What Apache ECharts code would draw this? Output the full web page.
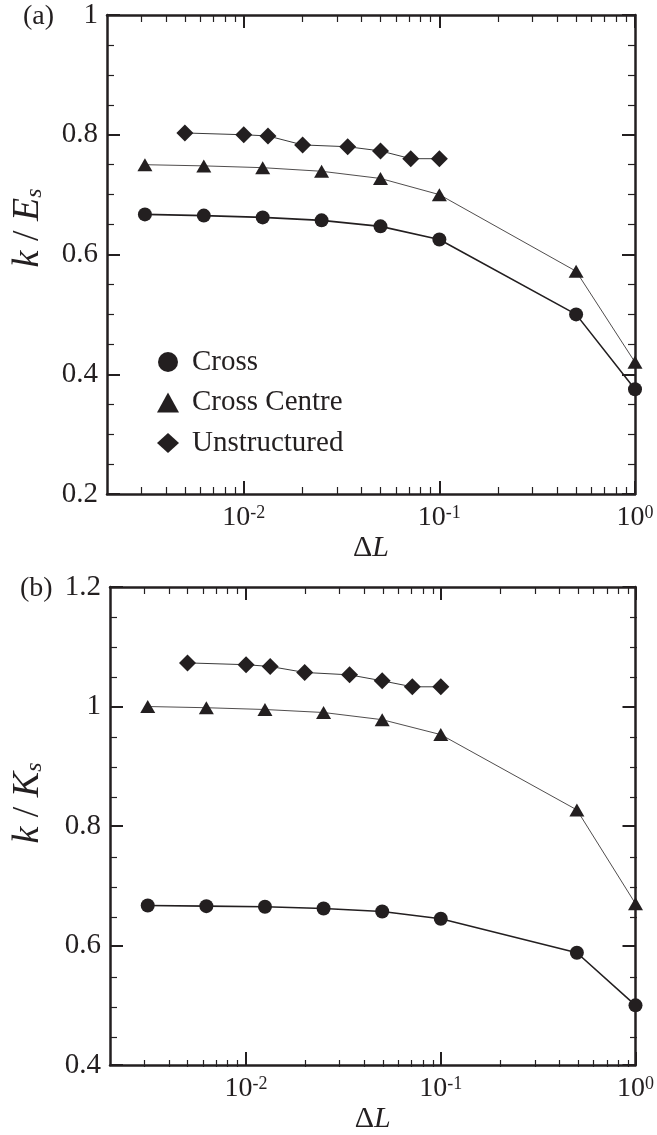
<!DOCTYPE html>
<html><head><meta charset="utf-8">
<script src="https://cdn.jsdelivr.net/npm/echarts@6/dist/echarts.min.js"></script>
<style>html,body{margin:0;padding:0;background:#fff}#c{width:657px;height:1135px}</style>
</head><body><div id="c"></div>
<script>
// ---- data ----
const seriesNames = ['Cross', 'Cross Centre', 'Unstructured'];
const dxStructured = [0.003125, 0.00625, 0.0125, 0.025, 0.05, 0.1, 0.5, 1];
const dxUnstructured = [0.005, 0.01, 0.0133, 0.02, 0.034, 0.05, 0.0714, 0.1];
// panel (a): k / E_s
const aCross = [0.667, 0.665, 0.662, 0.657, 0.647, 0.625, 0.5, 0.375];
const aCrossCentre = [0.75, 0.748, 0.745, 0.739, 0.727, 0.70, 0.572, 0.42];
const aUnstructured = [0.803, 0.80, 0.798, 0.783, 0.78, 0.773, 0.76, 0.76];
// panel (b): k / K_s
const bCross = [0.667, 0.666, 0.665, 0.662, 0.657, 0.645, 0.588, 0.5];
const bCrossCentre = [1.0, 0.998, 0.995, 0.99, 0.978, 0.953, 0.827, 0.67];
const bUnstructured = [1.073, 1.07, 1.067, 1.057, 1.053, 1.043, 1.033, 1.033];
// axes
const xRange = [0.002, 1];
const xMajorTicks = [0.01, 0.1, 1];
const xMinorTicks = [0.003, 0.004, 0.005, 0.006, 0.007, 0.008, 0.009,
  0.02, 0.03, 0.04, 0.05, 0.06, 0.07, 0.08, 0.09,
  0.2, 0.3, 0.4, 0.5, 0.6, 0.7, 0.8, 0.9];
const yRangeA = [0.2, 1];
const yRangeB = [0.4, 1.2];
const yStep = 0.2;
const yMinorA = [0.25, 0.3, 0.35, 0.45, 0.5, 0.55, 0.65, 0.7, 0.75, 0.85, 0.9, 0.95];
const yMinorB = [0.45, 0.5, 0.55, 0.65, 0.7, 0.75, 0.85, 0.9, 0.95, 1.05, 1.1, 1.15];

// ---- chart ----
const INK = '#231f20';
const FONT = 'Liberation Serif';
const lg = v => Math.log10(v);
const pts = (xs, ys) => xs.map((x, i) => [lg(x), ys[i]]);
const grids = [
  {left: 107, top: 15, width: 528, height: 479},
  {left: 110, top: 587, width: 527, height: 480}
];
const line = () => ({show: true, onZero: false, lineStyle: {color: INK, width: 2.5}});
const noline = () => ({show: false, onZero: false});
const majorTick = (vals) => ({show: true, inside: true, length: 13, lineStyle: {color: INK, width: 2}, customValues: vals});
const minorTick = (vals) => ({show: true, inside: true, length: 7, lineStyle: {color: INK, width: 1.2}, customValues: vals});

function xAxesFor(gMain, gAux) {
  const base = () => ({type: 'value', min: lg(xRange[0]), max: lg(xRange[1]), splitLine: {show: false}});
  return [
    Object.assign(base(), {gridIndex: gMain, position: 'bottom', axisLine: line(), axisTick: majorTick(xMajorTicks.map(lg)),
      axisLabel: {show: true, margin: 10, customValues: xMajorTicks.map(lg),
        formatter: v => '{b|10}{s|' + Math.round(v) + '}',
        rich: {b: {fontFamily: FONT, fontSize: 28, color: INK},
               s: {fontFamily: FONT, fontSize: 18, color: INK, verticalAlign: 'top'}}},
      name: '{d|Δ}{l|L}', nameLocation: 'middle', nameGap: 34,
      nameTextStyle: {rich: {d: {fontFamily: FONT, fontSize: 30, color: INK},
                             l: {fontFamily: FONT, fontSize: 30, color: INK, fontStyle: 'italic'}}}}),
    Object.assign(base(), {gridIndex: gMain, position: 'top', axisLine: line(), axisTick: majorTick(xMajorTicks.map(lg)),
      axisLabel: {show: false}}),
    Object.assign(base(), {gridIndex: gAux, position: 'bottom', axisLine: noline(), axisTick: minorTick(xMinorTicks.map(lg)),
      axisLabel: {show: false}}),
    Object.assign(base(), {gridIndex: gAux, position: 'top', axisLine: noline(), axisTick: minorTick(xMinorTicks.map(lg)),
      axisLabel: {show: false}})
  ];
}
function yAxesFor(gMain, gAux, range, minorVals) {
  const base = () => ({type: 'value', min: range[0], max: range[1], interval: yStep, splitLine: {show: false}});
  const t = () => ({show: true, inside: true, length: 13, lineStyle: {color: INK, width: 2}});
  return [
    Object.assign(base(), {gridIndex: gMain, position: 'left', axisLine: line(), axisTick: t(),
      axisLabel: {show: true, margin: 9, fontFamily: FONT, fontSize: 29, color: INK}}),
    Object.assign(base(), {gridIndex: gMain, position: 'right', axisLine: line(), axisTick: t(),
      axisLabel: {show: false}}),
    Object.assign(base(), {gridIndex: gAux, position: 'left', axisLine: noline(), axisTick: minorTick(minorVals),
      axisLabel: {show: false}}),
    Object.assign(base(), {gridIndex: gAux, position: 'right', axisLine: noline(), axisTick: minorTick(minorVals),
      axisLabel: {show: false}})
  ];
}
function seriesFor(xi, yi, cross, centre, unstr) {
  const common = {type: 'line', xAxisIndex: xi, yAxisIndex: yi, clip: false, z: 5,
    itemStyle: {color: INK}, emphasis: {disabled: true}, animation: false};
  return [
    Object.assign({}, common, {name: seriesNames[0], data: pts(dxStructured, cross),
      symbol: 'circle', symbolSize: 14, lineStyle: {color: INK, width: 1.6}}),
    Object.assign({}, common, {name: seriesNames[1], data: pts(dxStructured, centre),
      symbol: 'triangle', symbolSize: [15, 13], lineStyle: {color: INK, width: 0.8}}),
    Object.assign({}, common, {name: seriesNames[2], data: pts(dxUnstructured, unstr),
      symbol: 'diamond', symbolSize: [17, 17], lineStyle: {color: '#3a3a3a', width: 1}})
  ];
}
function yTitle(y, letter) {
  return {type: 'text', x: 28, y: y, rotation: Math.PI / 2,
    style: {text: '{i|k} / {i|' + letter + '}{s|s}', align: 'center', verticalAlign: 'middle',
      rich: {i: {fontFamily: FONT, fontSize: 38, fontStyle: 'italic', fill: INK},
             s: {fontFamily: FONT, fontSize: 24, fontStyle: 'italic', fill: INK, verticalAlign: 'bottom'}},
      fontFamily: FONT, fontSize: 38, fill: INK}};
}
const option = {
  animation: false,
  backgroundColor: '#fff',
  grid: [grids[0], grids[0], grids[1], grids[1]],
  xAxis: [].concat(xAxesFor(0, 1), xAxesFor(2, 3)),
  yAxis: [].concat(yAxesFor(0, 1, yRangeA, yMinorA), yAxesFor(2, 3, yRangeB, yMinorB)),
  legend: {
    orient: 'vertical', left: 157, top: 347, padding: 0, itemWidth: 22, itemHeight: 20, itemGap: 10.5,
    selectedMode: false,
    data: [{name: seriesNames[0], icon: 'circle'}, {name: seriesNames[1], icon: 'triangle'},
           {name: seriesNames[2], icon: 'diamond'}],
    itemStyle: {color: INK},
    textStyle: {fontFamily: FONT, fontSize: 29, lineHeight: 30, color: INK, padding: [0, 0, 0, 8]}
  },
  graphic: [
    {type: 'text', left: 23, top: 3, style: {text: '(a)', fontFamily: FONT, fontSize: 28, fill: INK}},
    {type: 'text', left: 20, top: 575, style: {text: '(b)', fontFamily: FONT, fontSize: 28, fill: INK}},
    yTitle(228, 'E'), yTitle(803, 'K')
  ],
  series: [].concat(seriesFor(0, 0, aCross, aCrossCentre, aUnstructured),
                    seriesFor(4, 4, bCross, bCrossCentre, bUnstructured))
};
const chart = echarts.init(document.getElementById('c'), null, {renderer: 'canvas'});
chart.setOption(option);
</script></body></html>
